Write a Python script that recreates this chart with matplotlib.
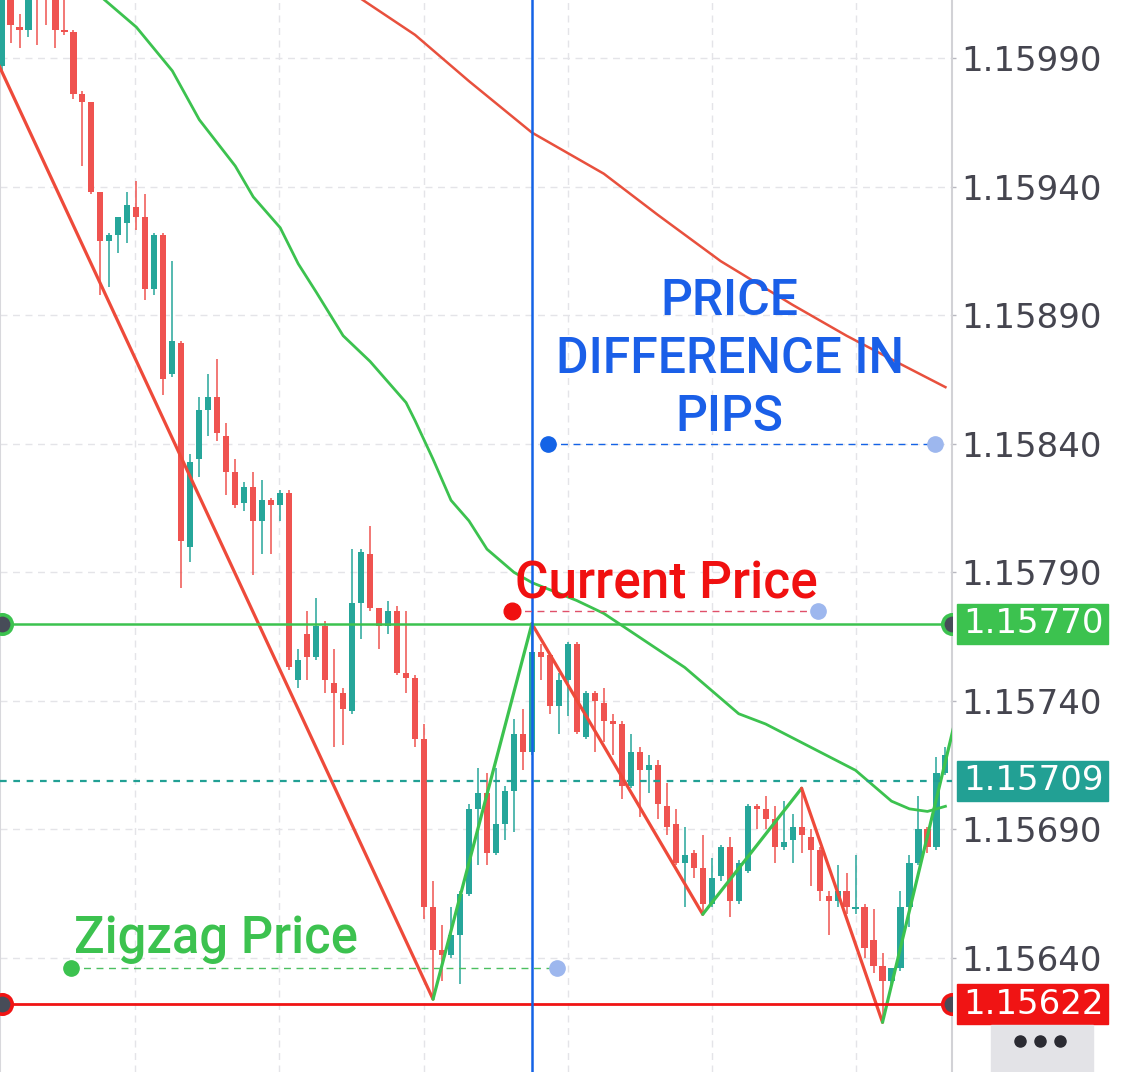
import numpy as np
import matplotlib
matplotlib.use("Agg")
import matplotlib.pyplot as plt
from matplotlib.patches import Rectangle
from matplotlib.lines import Line2D
import matplotlib.transforms as mtransforms

#  VELAS (OHLC), una por barra, de izquierda a derecha
opens = [1.15987, 1.16014, 1.16002, 1.16001, 1.16024, 1.16028, 1.16014, 1.16001, 1.16000, 1.15976,
         1.15973, 1.15938, 1.15919, 1.15921, 1.15926, 1.15932, 1.15928, 1.15900, 1.15921, 1.15867,
         1.15879, 1.15800, 1.15834, 1.15853, 1.15858, 1.15843, 1.15829, 1.15817, 1.15823, 1.15810,
         1.15818, 1.15816, 1.15821, 1.15748, 1.15766, 1.15757, 1.15769, 1.15747, 1.15743, 1.15736,
         1.15778, 1.15797, 1.15776, 1.15769, 1.15775, 1.15751, 1.15749, 1.15725, 1.15660, 1.15643,
         1.15641, 1.15649, 1.15665, 1.15698, 1.15704, 1.15681, 1.15692, 1.15705, 1.15727, 1.15720,
         1.15759, 1.15758, 1.15738, 1.15748, 1.15762, 1.15726, 1.15743, 1.15739, 1.15732, 1.15731,
         1.15707, 1.15720, 1.15713, 1.15715, 1.15699, 1.15692, 1.15677, 1.15681, 1.15675, 1.15661,
         1.15672, 1.15683, 1.15662, 1.15674, 1.15699, 1.15698, 1.15694, 1.15683, 1.15686, 1.15691,
         1.15687, 1.15682, 1.15664, 1.15662, 1.15666, 1.15659, 1.15660, 1.15647, 1.15637, 1.15631,
         1.15636, 1.15660, 1.15677, 1.15690, 1.15683, 1.15712]
highs = [1.16018, 1.16016, 1.16007, 1.16014, 1.16026, 1.16030, 1.16016, 1.16013, 1.16001, 1.15977,
         1.15973, 1.15938, 1.15922, 1.15928, 1.15938, 1.15942, 1.15937, 1.15922, 1.15922, 1.15911,
         1.15880, 1.15836, 1.15858, 1.15867, 1.15873, 1.15848, 1.15834, 1.15825, 1.15829, 1.15826,
         1.15819, 1.15822, 1.15822, 1.15760, 1.15775, 1.15780, 1.15771, 1.15760, 1.15745, 1.15799,
         1.15799, 1.15808, 1.15776, 1.15779, 1.15777, 1.15775, 1.15750, 1.15731, 1.15670, 1.15653,
         1.15660, 1.15666, 1.15700, 1.15714, 1.15712, 1.15714, 1.15707, 1.15733, 1.15737, 1.15770,
         1.15762, 1.15758, 1.15751, 1.15763, 1.15763, 1.15744, 1.15744, 1.15745, 1.15735, 1.15732,
         1.15727, 1.15722, 1.15719, 1.15717, 1.15708, 1.15698, 1.15691, 1.15682, 1.15688, 1.15679,
         1.15684, 1.15687, 1.15678, 1.15700, 1.15700, 1.15703, 1.15699, 1.15701, 1.15696, 1.15706,
         1.15690, 1.15683, 1.15666, 1.15676, 1.15673, 1.15680, 1.15661, 1.15659, 1.15642, 1.15636,
         1.15666, 1.15680, 1.15703, 1.15691, 1.15718, 1.15722]
lows = [1.15985, 1.15996, 1.15994, 1.15998, 1.15995, 1.16003, 1.15994, 1.15999, 1.15974, 1.15948,
        1.15937, 1.15898, 1.15901, 1.15914, 1.15918, 1.15923, 1.15896, 1.15898, 1.15859, 1.15866,
        1.15784, 1.15794, 1.15827, 1.15843, 1.15841, 1.15820, 1.15815, 1.15814, 1.15789, 1.15797,
        1.15797, 1.15810, 1.15752, 1.15745, 1.15748, 1.15756, 1.15743, 1.15722, 1.15723, 1.15735,
        1.15764, 1.15775, 1.15760, 1.15766, 1.15750, 1.15743, 1.15722, 1.15655, 1.15624, 1.15631,
        1.15640, 1.15630, 1.15664, 1.15676, 1.15676, 1.15680, 1.15686, 1.15689, 1.15713, 1.15719,
        1.15748, 1.15735, 1.15727, 1.15734, 1.15727, 1.15725, 1.15720, 1.15724, 1.15719, 1.15702,
        1.15706, 1.15695, 1.15704, 1.15694, 1.15688, 1.15676, 1.15660, 1.15671, 1.15657, 1.15660,
        1.15670, 1.15656, 1.15661, 1.15673, 1.15690, 1.15690, 1.15677, 1.15682, 1.15677, 1.15681,
        1.15668, 1.15662, 1.15649, 1.15660, 1.15657, 1.15657, 1.15640, 1.15634, 1.15615, 1.15629,
        1.15635, 1.15652, 1.15676, 1.15681, 1.15682, 1.15711]
closes = [1.16016, 1.16003, 1.16001, 1.16013, 1.16014, 1.16016, 1.16001, 1.16000, 1.15976, 1.15973,
          1.15938, 1.15919, 1.15921, 1.15928, 1.15933, 1.15928, 1.15900, 1.15921, 1.15865, 1.15880,
          1.15802, 1.15833, 1.15853, 1.15858, 1.15844, 1.15829, 1.15816, 1.15823, 1.15810, 1.15818,
          1.15816, 1.15821, 1.15753, 1.15756, 1.15757, 1.15769, 1.15748, 1.15743, 1.15737, 1.15778,
          1.15798, 1.15776, 1.15769, 1.15775, 1.15751, 1.15749, 1.15725, 1.15660, 1.15643, 1.15641,
          1.15649, 1.15665, 1.15698, 1.15704, 1.15681, 1.15692, 1.15705, 1.15727, 1.15720, 1.15759,
          1.15757, 1.15738, 1.15748, 1.15762, 1.15728, 1.15743, 1.15740, 1.15732, 1.15731, 1.15707,
          1.15720, 1.15713, 1.15715, 1.15700, 1.15691, 1.15677, 1.15680, 1.15675, 1.15661, 1.15671,
          1.15683, 1.15662, 1.15677, 1.15699, 1.15698, 1.15694, 1.15683, 1.15685, 1.15691, 1.15688,
          1.15682, 1.15666, 1.15662, 1.15666, 1.15660, 1.15660, 1.15644, 1.15637, 1.15631, 1.15636,
          1.15660, 1.15677, 1.15690, 1.15683, 1.15712, 1.15719]

#  MEDIAS MOVILES (puntos leidos: indice de vela, precio)
ma_fast_idx = [9, 11, 15, 19, 22, 26, 28, 31, 33, 35, 38, 41, 43, 45, 46, 48, 50, 52, 54, 57,
               59, 64, 67, 70, 73, 76, 79, 82, 85, 90, 95, 97, 99, 101, 103, 105]
ma_fast = [1.16020, 1.16014, 1.16002, 1.15985, 1.15966, 1.15948, 1.15936, 1.15924, 1.15910, 1.15899,
           1.15882, 1.15872, 1.15864, 1.15856, 1.15849, 1.15834, 1.15818, 1.15810, 1.15799, 1.15790,
           1.15786, 1.15779, 1.15774, 1.15767, 1.15760, 1.15753, 1.15744, 1.15735, 1.15731, 1.15722,
           1.15713, 1.15707, 1.15701, 1.15698, 1.15697, 1.15699]
ma_slow_idx = [38, 40, 46, 52, 59, 67, 73, 80, 88, 94, 100, 105]
ma_slow = [1.16017, 1.16013, 1.15999, 1.15981, 1.15961, 1.15945, 1.15929, 1.15911, 1.15894, 1.15882,
           1.15871, 1.15862]

#  ZIGZAG (pivotes)
zz_idx = [-2, 48, 59, 78, 89, 98, 106]
zz_price = [1.16000, 1.15624, 1.15770, 1.15657, 1.15706, 1.15615, 1.15731]

#  NIVELES Y EJE DE PRECIOS
zigzag_level = 1.15770
low_level = 1.15622
last_price = 1.15709
current_bar = 59
diff_price = 1.15840
zigzag_mark = 1.15636
price_ticks = [1.15640, 1.15690, 1.15740, 1.15790, 1.15840, 1.15890, 1.15940, 1.15990]
time_grid = [14.85, 30.9, 47.0, 63.0, 79.0, 95.1]

RED = "#ef5350"
TEAL = "#26a69a"
GREEN = "#3cc24f"
ZZ_RED = "#ee4a3a"
LEVEL_RED = "#f01414"
BADGE_TEAL = "#22a094"
BLUE = "#1463e6"
LIGHT_BLUE = "#9db7ee"
AXIS_TXT = "#45454f"


def generar_grafico():
    fig = plt.figure(figsize=(11.25, 10.72), dpi=100)
    ax = fig.add_axes([0, 0, 952 / 1125, 1])
    ax.set_xlim(-0.17, 105.73)
    ax.set_ylim(1.1559567, 1.1601256)

    # Rejilla punteada
    for p in price_ticks:
        ax.axhline(p, color="#e4e4e8", lw=1, dashes=(5, 4), zorder=0)
    for t in time_grid:
        ax.axvline(t, color="#e4e4e8", lw=1, dashes=(5, 4), zorder=0)

    # Velas
    o = np.array(opens)
    c = np.array(closes)
    idx = np.arange(len(c))
    colors = np.where(c >= o, TEAL, RED)
    ax.vlines(idx, lows, highs, colors=colors, lw=1.1, zorder=2)
    body_h = np.maximum(np.abs(c - o), 0.000006)
    ax.bar(idx, body_h, bottom=np.minimum(o, c), width=0.68, color=colors, linewidth=0, zorder=3)

    # Medias moviles
    ax.plot(ma_slow_idx, ma_slow, color="#e8503d", lw=1.8, zorder=4)
    ax.plot(ma_fast_idx, ma_fast, color=GREEN, lw=2.0, zorder=4)

    # Zigzag: tramos bajistas en rojo, alcistas en verde
    for i in range(len(zz_idx) - 1):
        col = ZZ_RED if zz_price[i + 1] < zz_price[i] else GREEN
        ax.plot(zz_idx[i:i + 2], zz_price[i:i + 2], color=col, lw=2.3, zorder=5,
                solid_capstyle="round")

    # Niveles horizontales
    xl = ax.get_xlim()
    ax.axhline(last_price, color=BADGE_TEAL, lw=1.6, dashes=(3, 3), zorder=5)
    ax.axhline(zigzag_level, color=GREEN, lw=1.8, zorder=6)
    ax.axhline(low_level, color=LEVEL_RED, lw=2.0, zorder=6)
    for lvl, col in [(zigzag_level, GREEN), (low_level, LEVEL_RED)]:
        ax.plot([xl[0] + 0.22, xl[1]], [lvl, lvl], "o", ms=14, mfc="#474c58", mec=col,
                mew=2.6, zorder=7)

    # Linea vertical de la vela actual
    ax.axvline(current_bar, color=BLUE, lw=1.8, zorder=6)

    # Anotaciones
    ax.plot([60.8, 103.8], [diff_price, diff_price], color=BLUE, lw=1.0, dashes=(5, 4), zorder=6)
    ax.plot([60.8], [diff_price], "o", ms=11, color=BLUE, zorder=7)
    ax.plot([103.8], [diff_price], "o", ms=11, color=LIGHT_BLUE, zorder=7)

    ax.plot([56.8, 90.8], [1.15775, 1.15775], color="#e0506a", lw=1.0, dashes=(5, 4), zorder=6)
    ax.plot([56.8], [1.15775], "o", ms=12, color="#f01010", zorder=7)
    ax.plot([90.8], [1.15775], "o", ms=11, color=LIGHT_BLUE, zorder=7)

    ax.plot([7.7, 61.8], [zigzag_mark, zigzag_mark], color="#4cbf60", lw=1.0, dashes=(5, 4), zorder=6)
    ax.plot([7.7], [zigzag_mark], "o", ms=11, color=GREEN, zorder=7)
    ax.plot([61.8], [zigzag_mark], "o", ms=11, color=LIGHT_BLUE, zorder=7)

    ax.text(81.0, 1.15873, "PRICE\nDIFFERENCE IN\nPIPS", color="#1a5fe8", fontsize=36,
            family="Roboto", fontweight="medium", ha="center", va="center",
            linespacing=1.27, zorder=8)
    ax.text(57.1, 1.15780, "Current Price", color="#f01010", fontsize=37, family="Roboto",
            fontweight="medium", ha="left", va="baseline", zorder=8)
    ax.text(8.1, 1.15642, "Zigzag Price", color=GREEN, fontsize=36.5, family="Roboto",
            fontweight="medium", ha="left", va="baseline", zorder=8)

    # Eje de precios a la derecha
    ax.yaxis.tick_right()
    ax.set_yticks(price_ticks)
    ax.set_yticklabels([f"{p:.5f}" for p in price_ticks])
    ax.tick_params(axis="y", labelsize=24.5, labelcolor=AXIS_TXT, color="#b8b8c0",
                   length=3, width=1, pad=4)
    ax.set_xticks([])
    for s in ["top", "bottom"]:
        ax.spines[s].set_visible(False)
    ax.spines["right"].set_color("#d2d2d6")
    ax.spines["right"].set_linewidth(1.5)
    ax.spines["left"].set_color("#d8d8dc")
    ax.spines["left"].set_linewidth(1.5)

    # Etiquetas de precio con fondo de color
    trans = mtransforms.blended_transform_factory(ax.transAxes, ax.transData)
    half = 20 / 257143
    for lvl, col in [(zigzag_level, GREEN), (last_price, BADGE_TEAL), (low_level, LEVEL_RED)]:
        ax.add_patch(Rectangle((957 / 952, lvl - half), 151 / 952, 2 * half, transform=trans,
                               color=col, clip_on=False, zorder=9))
        ax.text(963 / 952, lvl, f"{lvl:.5f}", transform=trans, color="white", fontsize=24.5,
                ha="left", va="center", clip_on=False, zorder=10)

    # Boton de menu abajo a la derecha
    fig.add_artist(Rectangle((991 / 1125, 0), 102 / 1125, 47 / 1072, transform=fig.transFigure,
                             color="#e3e3e7", zorder=1))
    fig.add_artist(Line2D([1020 / 1125, 1040 / 1125, 1060 / 1125], [31 / 1072] * 3,
                          transform=fig.transFigure, ls="none", marker="o", ms=8,
                          color="#2b2b33", zorder=2))

    fig.savefig("out.png", dpi=100)
    plt.close(fig)


if __name__ == "__main__":
    generar_grafico()
